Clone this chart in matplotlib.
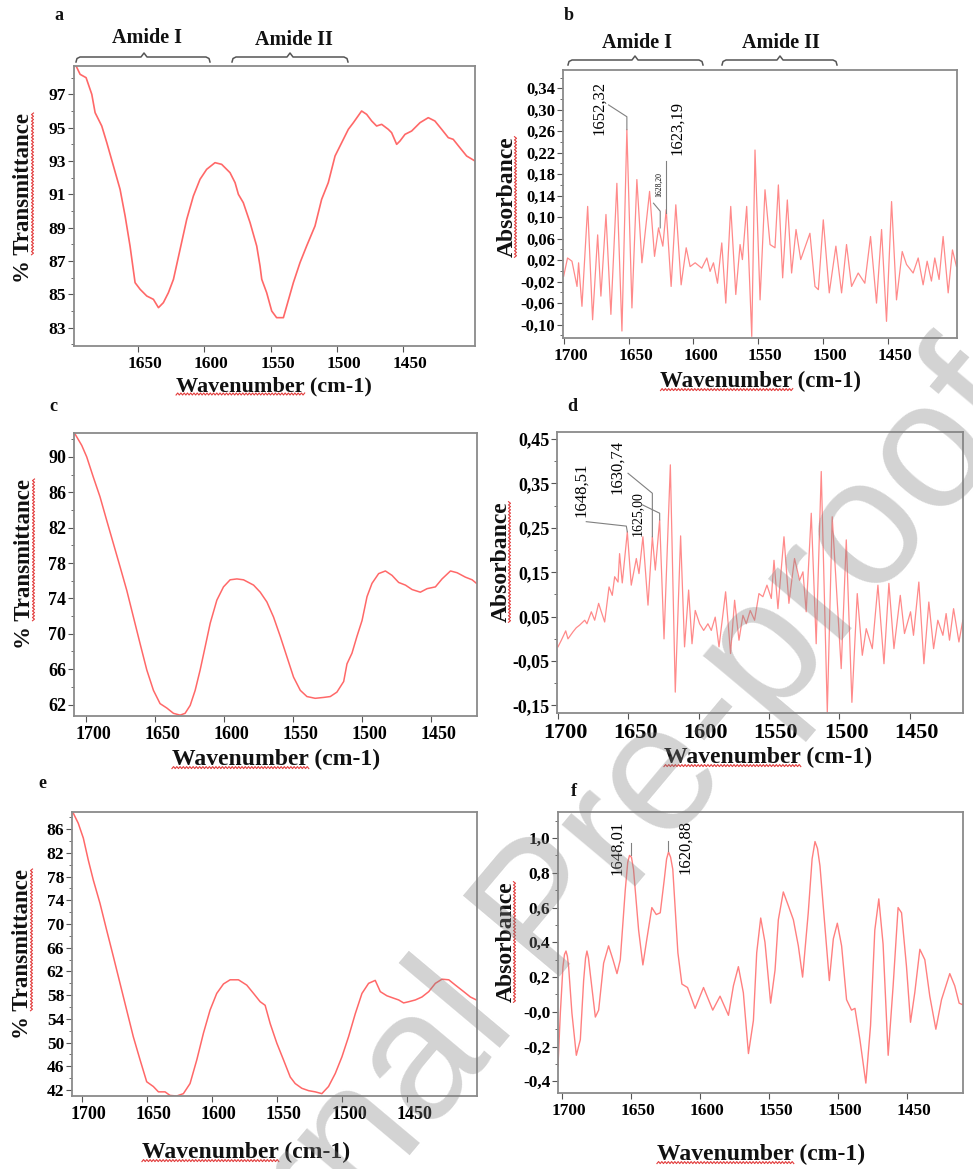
import numpy as np
import matplotlib
matplotlib.use("Agg")
import matplotlib.pyplot as plt
from matplotlib.lines import Line2D
from matplotlib.ticker import MultipleLocator
from matplotlib.transforms import ScaledTranslation

W, H = 973, 1169
SERIF = "Liberation Serif"
INK = "#111111"
LINE = "#ff6868"
FRAME = "#8a8a8a"
LEADER = "#808080"

# ---- panel a: transmittance ----
a_wn = [1697.8, 1696.4, 1693.4, 1688.9, 1684.6, 1682.1, 1677.1, 1673.3, 1668.3, 1663.3, 1659.5,
        1655.8, 1652.0, 1648.2, 1643.2, 1638.2, 1634.4, 1630.7, 1626.9, 1623.1, 1618.1, 1613.1,
        1608.1, 1603.1, 1598.1, 1591.8, 1586.8, 1580.5, 1576.7, 1574.2, 1570.5, 1565.4, 1560.4,
        1557.9, 1556.6, 1552.9, 1549.1, 1545.4, 1540.3, 1537.8, 1532.8, 1527.8, 1522.8, 1516.5,
        1511.5, 1506.5, 1501.4, 1496.4, 1491.4, 1487.6, 1481.4, 1477.6, 1473.8, 1470.1, 1466.3,
        1461.3, 1458.8, 1455.0, 1452.5, 1448.7, 1443.7, 1437.4, 1431.2, 1426.2, 1421.1, 1416.1,
        1412.4, 1407.4, 1402.3, 1396.0]
a_t = [98.8, 98.7, 98.2, 98.0, 97.0, 95.9, 95.1, 94.1, 92.7, 91.3, 89.7, 87.9, 85.7, 85.3, 84.9,
       84.7, 84.2, 84.5, 85.1, 85.9, 87.7, 89.5, 90.9, 91.9, 92.5, 92.9, 92.8, 92.3, 91.7, 91.0,
       90.5, 89.3, 87.9, 86.7, 85.9, 85.1, 84.0, 83.6, 83.6, 84.3, 85.7, 86.9, 87.9, 89.1, 90.7,
       91.7, 93.3, 94.1, 94.9, 95.3, 96.0, 95.8, 95.4, 95.1, 95.2, 94.9, 94.7, 94.0, 94.2, 94.6,
       94.8, 95.3, 95.6, 95.4, 94.9, 94.4, 94.3, 93.8, 93.3, 93.0]

# ---- panel b: absorbance ----
b_wn = [1700, 1697, 1693.6, 1689.7, 1688.5, 1685.9, 1681.5, 1677.7, 1673.8, 1671.3,
        1667.4, 1663.6, 1659.0, 1655.1, 1651.3, 1647.4, 1643.6, 1639.7, 1633.8, 1630.0,
        1626.9, 1623.6, 1621.0, 1617.2, 1613.6, 1609.5, 1605.6, 1602.6, 1598.7, 1593.6,
        1589.7, 1587.2, 1584.6, 1581.5, 1578.2, 1575.1, 1571.3, 1567.4, 1564.1, 1562.3,
        1559.0, 1555.1, 1552.6, 1548.7, 1544.9, 1541.0, 1537.2, 1534.6, 1531.3, 1527.7,
        1524.4, 1521.0, 1517.4, 1510.3, 1506.4, 1503.8, 1500.0, 1495.4, 1490.3, 1485.9,
        1482.1, 1478.2, 1473.1, 1468.0, 1463.6, 1459.0, 1455.1, 1451.3, 1447.4, 1443.6,
        1439.2, 1435.9, 1430.8, 1426.9, 1423.1, 1420.0, 1416.7, 1414.1, 1410.8, 1407.7,
        1403.8, 1400.5, 1397.4]
b_a = [-0.010, 0.024, 0.018, -0.029, 0.015, -0.066, 0.120, -0.091, 0.067, -0.047,
       0.105, -0.081, 0.163, -0.112, 0.263, -0.069, 0.170, 0.015, 0.148, 0.027,
       0.080, 0.046, 0.114, -0.029, 0.123, -0.026, 0.043, 0.008, 0.015, 0.005,
       0.024, -0.001, 0.015, -0.023, 0.052, -0.060, 0.120, -0.044, 0.049, 0.021,
       0.120, -0.122, 0.225, -0.054, 0.151, 0.049, 0.043, 0.160, -0.013, 0.132,
       -0.004, 0.077, 0.021, 0.070, -0.029, -0.035, 0.095, -0.041, 0.046, -0.041,
       0.049, -0.029, -0.004, -0.023, 0.064, -0.060, 0.077, -0.094, 0.129, -0.054,
       0.036, 0.012, -0.004, 0.024, -0.026, 0.018, -0.019, 0.024, -0.016, 0.064,
       -0.041, 0.039, 0.008]

# ---- panel c: transmittance ----
c_wn = [1708, 1703.1, 1699.5, 1694.7, 1689.9, 1685.0, 1680.2, 1675.4, 1670.5, 1665.7,
        1660.9, 1656.0, 1651.2, 1646.4, 1641.5, 1636.7, 1631.9, 1628.3, 1624.6, 1621.0,
        1617.4, 1613.8, 1610.1, 1605.3, 1600.5, 1595.7, 1590.8, 1586.0, 1578.7, 1573.9,
        1569.1, 1564.3, 1559.4, 1554.6, 1549.8, 1544.9, 1540.1, 1534.1, 1528.0, 1523.2,
        1518.4, 1513.5, 1511.1, 1507.5, 1503.9, 1500.2, 1496.6, 1493.0, 1488.2, 1483.3,
        1478.5, 1473.7, 1468.8, 1464.0, 1458.0, 1453.1, 1447.1, 1442.3, 1436.2, 1431.4,
        1425.4, 1420.5, 1417.4]
c_t = [92.6, 91.3, 90.0, 87.7, 85.5, 82.8, 80.2, 77.6, 74.9, 71.9,
       68.9, 65.9, 63.6, 62.1, 61.6, 61.0, 60.8, 61.0, 61.9, 63.6,
       65.9, 68.5, 71.2, 73.8, 75.3, 76.1, 76.2, 76.1, 75.5, 74.7,
       73.6, 71.9, 69.7, 67.4, 65.1, 63.6, 62.9, 62.7, 62.8, 62.9,
       63.4, 64.6, 66.6, 67.8, 69.7, 71.5, 74.2, 75.7, 76.8, 77.1,
       76.6, 75.8, 75.5, 75.0, 74.7, 75.1, 75.3, 76.2, 77.1, 76.9,
       76.4, 76.1, 75.7]

# ---- panel d: absorbance ----
d_wn = [1700.0, 1697.6, 1694.5, 1692.9, 1689.3, 1687.0, 1684.6, 1681.0, 1679.4, 1676.3,
        1673.9, 1671.1, 1669.2, 1666.8, 1663.7, 1661.4, 1659.7, 1657.3, 1656.2, 1654.3,
        1650.7, 1647.9, 1644.3, 1642.4, 1639.6, 1636.0, 1632.9, 1630.8, 1627.7, 1624.6,
        1620.1, 1616.6, 1612.8, 1610.0, 1607.1, 1604.7, 1602.4, 1599.3, 1596.4, 1593.4,
        1591.0, 1588.2, 1585.5, 1580.8, 1577.3, 1574.4, 1571.3, 1568.5, 1566.1, 1563.3,
        1560.2, 1557.1, 1554.3, 1551.4, 1548.3, 1546.4, 1543.6, 1539.3, 1535.8, 1531.8,
        1528.2, 1525.8, 1523.5, 1519.9, 1516.4, 1512.8, 1508.5, 1505.0, 1498.6, 1495.0,
        1491.0, 1487.2, 1483.6, 1480.8, 1476.5, 1472.5, 1468.2, 1464.7, 1461.1, 1456.6,
        1453.6, 1449.3, 1447.2, 1443.4, 1439.8, 1436.3, 1432.9, 1429.9, 1426.3, 1424.0,
        1421.6, 1418.7, 1414.9, 1412.1]
d_a = [-0.018, -0.003, 0.018, 0.000, 0.016, 0.025, 0.031, 0.042, 0.034, 0.061,
       0.042, 0.080, 0.061, 0.038, 0.117, 0.098, 0.140, 0.128, 0.192, 0.126,
       0.241, 0.121, 0.181, 0.147, 0.230, 0.076, 0.230, 0.155, 0.268, 0.000,
       0.392, -0.120, 0.232, -0.018, 0.110, -0.011, 0.064, 0.034, 0.019, 0.034,
       0.019, 0.049, -0.018, 0.106, -0.033, 0.087, -0.003, 0.053, 0.034, 0.064,
       0.042, 0.102, 0.095, 0.121, 0.091, 0.177, 0.068, 0.230, 0.080, 0.181,
       0.132, 0.151, 0.061, 0.283, -0.011, 0.377, -0.165, 0.275, -0.067, 0.223,
       -0.143, 0.102, -0.037, 0.023, -0.022, 0.121, -0.056, 0.125, -0.022, 0.098,
       0.012, 0.061, 0.008, 0.128, -0.056, 0.083, -0.022, 0.042, 0.008, 0.057,
       -0.003, 0.068, -0.007, 0.042]

# ---- panel e: transmittance ----
e_wn = [1706.4, 1702.6, 1698.7, 1694.9, 1691.0, 1685.9, 1680.8, 1675.6, 1670.5, 1665.4,
        1660.3, 1655.1, 1650.0, 1644.9, 1641.0, 1635.9, 1632.1, 1626.9, 1621.8, 1616.7,
        1611.5, 1606.4, 1601.3, 1596.2, 1591.0, 1585.9, 1579.5, 1573.1, 1567.9, 1562.8,
        1559.0, 1555.1, 1550.0, 1544.9, 1539.7, 1535.9, 1530.8, 1525.6, 1520.5, 1515.4,
        1510.3, 1505.1, 1500.0, 1494.9, 1489.7, 1484.6, 1479.5, 1474.4, 1470.5, 1465.4,
        1460.3, 1456.4, 1452.6, 1448.7, 1443.6, 1438.5, 1433.3, 1428.2, 1423.1, 1417.9,
        1412.8, 1406.4, 1401.3, 1396.7]
e_t = [88.7, 87.0, 84.5, 80.8, 77.4, 73.5, 69.0, 64.5, 60.0, 55.5,
       51.0, 47.1, 43.4, 42.6, 41.7, 41.7, 41.1, 41.0, 41.4, 43.1,
       47.1, 51.6, 55.5, 58.3, 59.9, 60.6, 60.6, 59.7, 58.3, 56.9,
       56.3, 53.2, 49.9, 47.1, 44.2, 43.1, 42.3, 41.9, 41.7, 41.4,
       42.6, 44.8, 47.6, 51.0, 54.9, 58.3, 60.0, 60.5, 58.6, 57.9,
       57.5, 57.2, 56.7, 56.9, 57.2, 57.7, 58.6, 60.0, 60.7, 60.6,
       59.7, 58.6, 57.7, 57.2]

# ---- panel f: absorbance ----
f_wn = [1702.9, 1701.2, 1699.3, 1698.2, 1697.1, 1696.1, 1695.2, 1692.8, 1689.6, 1686.7, 1684.3,
        1682.9, 1681.9, 1680.8, 1679.5, 1675.8, 1673.4, 1669.8, 1666.2, 1663.0, 1660.1, 1657.7,
        1654.1, 1652.3, 1651.0, 1649.6, 1648.1, 1644.4, 1641.3, 1638.4, 1634.8, 1631.6, 1628.7,
        1625.8, 1624.1, 1622.7, 1621.2, 1619.6, 1615.9, 1613.0, 1608.9, 1603.4, 1597.3, 1590.6,
        1585.3, 1579.2, 1575.6, 1572.0, 1568.4, 1564.7, 1561.1, 1558.7, 1555.8, 1552.7, 1548.6,
        1545.4, 1543.0, 1539.4, 1535.7, 1532.1, 1528.5, 1525.4, 1521.3, 1518.5, 1516.4, 1514.6,
        1512.8, 1509.2, 1506.0, 1503.1, 1500.2, 1497.1, 1493.5, 1489.9, 1487.4, 1483.8, 1479.5,
        1476.1, 1473.0, 1470.1, 1467.0, 1463.3, 1459.7, 1456.1, 1453.6, 1450.0, 1447.1, 1444.0,
        1440.3, 1436.7, 1433.1, 1428.7, 1424.6, 1418.6, 1415.0, 1411.8, 1409.0]
f_a = [-0.31, -0.007, 0.26, 0.33, 0.35, 0.32, 0.26, -0.007, -0.25, -0.16, 0.18,
       0.31, 0.35, 0.31, 0.22, -0.03, 0.01, 0.28, 0.38, 0.30, 0.22, 0.30,
       0.70, 0.86, 0.90, 0.89, 0.82, 0.47, 0.27, 0.42, 0.60, 0.56, 0.57,
       0.76, 0.88, 0.92, 0.89, 0.82, 0.34, 0.16, 0.14, 0.02, 0.14, 0.01,
       0.09, -0.02, 0.15, 0.26, 0.11, -0.24, -0.05, 0.34, 0.54, 0.40, 0.05,
       0.24, 0.53, 0.69, 0.61, 0.53, 0.38, 0.20, 0.57, 0.88, 0.98, 0.94,
       0.84, 0.49, 0.18, 0.42, 0.51, 0.38, 0.07, 0.01, 0.02, -0.16, -0.41,
       -0.08, 0.47, 0.65, 0.39, -0.25, 0.15, 0.60, 0.57, 0.26, -0.06, 0.11,
       0.36, 0.30, 0.09, -0.10, 0.07, 0.22, 0.15, 0.05, 0.04]

x_ticks = [1700, 1650, 1600, 1550, 1500, 1450]

fig = plt.figure(figsize=(W / 100, H / 100), dpi=100)


def fx(x):
    return x / W


def fy(y):
    return 1 - y / H


def panel(box, xlim, ylim, yticks, ylabels, yminor, xfs, yfs):
    l, t, r, b = box
    ax = fig.add_axes([l / W, 1 - b / H, (r - l) / W, (b - t) / H])
    ax.set_xlim(*xlim)
    ax.set_ylim(*ylim)
    xt = [v for v in x_ticks if min(xlim) <= v <= max(xlim)]
    ax.set_xticks(xt)
    ax.set_xticklabels([str(v) for v in xt])
    ax.set_yticks(yticks)
    ax.set_yticklabels(ylabels)
    ax.yaxis.set_minor_locator(MultipleLocator(yminor))
    ax.tick_params(which="both", direction="out", color="#555555")
    ax.tick_params(axis="x", length=4, pad=3)
    ax.tick_params(axis="y", which="major", length=4, pad=1.5)
    ax.tick_params(axis="y", which="minor", length=2.5)
    for s in ax.spines.values():
        s.set_color(FRAME)
        s.set_linewidth(1.3)
    for lab in ax.get_xticklabels():
        lab.set_fontfamily(SERIF)
        lab.set_fontweight("bold")
        lab.set_fontsize(xfs)
        lab.set_transform(lab.get_transform() + ScaledTranslation(0.07, 0, fig.dpi_scale_trans))
    for lab in ax.get_yticklabels():
        lab.set_fontfamily(SERIF)
        lab.set_fontweight("bold")
        lab.set_fontsize(yfs)
    return ax


def comma(vals, fmt):
    return [(fmt % v).replace(".", ",") for v in vals]


def squiggle_label(x, y, full, word, fs, rotation=0):
    t = fig.text(fx(x), fy(y), full, fontsize=fs, fontweight="bold", family=SERIF,
                 rotation=rotation, ha="center", va="center", color=INK)
    rnd = fig.canvas.get_renderer()
    bb = t.get_window_extent(rnd)
    tmp = fig.text(0, 0, word, fontsize=fs, fontweight="bold", family=SERIF)
    wl = tmp.get_window_extent(rnd).width
    tmp.remove()
    tmp = fig.text(0, 0, full, fontsize=fs, fontweight="bold", family=SERIF)
    fl = tmp.get_window_extent(rnd).width
    tmp.remove()
    start = fl - wl if full.endswith(word) else 0
    n = int(wl / 1.6)
    zig = np.where(np.arange(n) % 2 == 0, -1.0, 1.0)
    if rotation == 0:
        xs = bb.x0 + start + np.linspace(0, wl, n)
        ys = bb.y0 + 2 + zig
    else:
        ys = bb.y0 + start + np.linspace(0, wl, n)
        xs = bb.x1 - 2 + zig
    fig.add_artist(Line2D(xs / W, ys / H, color="#e23b3b", lw=0.8))


def bracket(x0, x1, xc, y):
    xs = [x0, x0 + 1, x0 + 4, xc - 3, xc, xc + 3, x1 - 4, x1 - 1, x1]
    ys = [y + 5, y + 1.5, y, y, y - 4, y, y, y + 1.5, y + 5]
    fig.add_artist(Line2D([fx(v) for v in xs], [fy(v) for v in ys], color="#555555", lw=1.1))


def plain(x, y, s, fs, **kw):
    fig.text(fx(x), fy(y), s, fontsize=fs, family=SERIF, color=INK, **kw)


# ---------------- a ----------------
ax = panel((74, 66, 475, 346), (1698, 1396), (81.9, 98.7), list(range(83, 98, 2)),
           [str(v) for v in range(83, 98, 2)], 1, 12.5, 12.5)
ax.plot(a_wn, a_t, color=LINE, lw=1.2)

# ---------------- b ----------------
b_ticks = [round(-0.10 + 0.04 * i, 2) for i in range(12)]
ax = panel((563, 70, 957, 338), (1700.5, 1397), (-0.125, 0.374), b_ticks,
           comma(b_ticks, "%.2f"), 0.02, 12.5, 12)
ax.plot(b_wn, b_a, color="#ff8a8a", lw=0.9)
ax.text(1673, 0.303, "1652,32", rotation=90, ha="center", va="center", fontsize=12, family=SERIF)
ax.plot([1665.4, 1651.3, 1651.3], [0.309, 0.287, 0.263], color=LEADER, lw=0.8)
ax.text(1626.4, 0.160, "1628,20", rotation=90, ha="center", va="center", fontsize=5.5, family=SERIF)
ax.plot([1630.8, 1625.6, 1625.6], [0.126, 0.111, 0.080], color=LEADER, lw=0.8)
ax.text(1612.3, 0.266, "1623,19", rotation=90, ha="center", va="center", fontsize=12, family=SERIF)
ax.plot([1621.3, 1621.3], [0.204, 0.108], color=LEADER, lw=0.8)

# ---------------- c ----------------
ax = panel((74, 433, 477, 716), (1708.7, 1417), (60.7, 92.7), list(range(62, 91, 4)),
           [str(v) for v in range(62, 91, 4)], 2, 13, 13)
ax.plot(c_wn, c_t, color=LINE, lw=1.1)

# ---------------- d ----------------
d_ticks = [round(-0.15 + 0.10 * i, 2) for i in range(7)]
ax = panel((557, 432, 963, 713), (1700.7, 1412), (-0.167, 0.466), d_ticks,
           comma(d_ticks, "%.2f"), 0.05, 16, 13)
ax.plot(d_wn, d_a, color="#ff8a8a", lw=0.9)
ax.text(1683.4, 0.336, "1648,51", rotation=90, ha="center", va="center", fontsize=12, family=SERIF)
ax.plot([1679.9, 1651.4, 1650.7], [0.264, 0.254, 0.241], color=LEADER, lw=0.8)
ax.text(1657.8, 0.388, "1630,74", rotation=90, ha="center", va="center", fontsize=12, family=SERIF)
ax.plot([1650.2, 1632.9, 1632.9], [0.373, 0.328, 0.230], color=LEADER, lw=0.8)
ax.text(1643.6, 0.283, "1625,00", rotation=90, ha="center", va="center", fontsize=10, family=SERIF)
ax.plot([1640.0, 1627.7, 1627.7], [0.302, 0.283, 0.268], color=LEADER, lw=0.8)

# ---------------- e ----------------
ax = panel((72, 812, 477, 1096), (1707.4, 1396.2), (41.0, 88.9), list(range(42, 87, 4)),
           [str(v) for v in range(42, 87, 4)], 2, 13, 12.5)
ax.plot(e_wn, e_t, color=LINE, lw=1.1)

# ---------------- f ----------------
f_ticks = [-0.4, -0.2, 0.0, 0.2, 0.4, 0.6, 0.8, 1.0]
f_labels = ["-0,4", "-0,2", "-0,0", "0,2", "0,4", "0,6", "0,8", "1,0"]
ax = panel((558, 812, 963, 1093), (1702.9, 1409), (-0.467, 1.15), f_ticks, f_labels,
           0.1, 12.5, 12.5)
ax.plot(f_wn, f_a, color="#ff8080", lw=1.0)
ax.text(1660.1, 0.946, "1648,01", rotation=90, ha="center", va="center", fontsize=12, family=SERIF)
ax.plot([1650.0, 1650.0], [0.971, 0.904], color=LEADER, lw=0.8)
ax.text(1610.6, 0.95, "1620,88", rotation=90, ha="center", va="center", fontsize=12, family=SERIF)
ax.plot([1623.4, 1623.4], [0.985, 0.923], color=LEADER, lw=0.8)

# ---------------- labels ----------------
for x, y, s in [(59, 16, "a"), (569, 16, "b"), (53, 406, "c"), (572, 406, "d"),
                (42, 784, "e"), (574, 791, "f")]:
    plain(x, y, s, 13, fontweight="bold", ha="center", va="center")

plain(147, 38, "Amide I", 14.5, fontweight="bold", ha="center", va="center")
plain(294, 40, "Amide II", 14.5, fontweight="bold", ha="center", va="center")
bracket(76, 210, 144, 57)
bracket(232, 348, 290, 57)
plain(637, 43, "Amide I", 14.5, fontweight="bold", ha="center", va="center")
plain(781, 43, "Amide II", 14.5, fontweight="bold", ha="center", va="center")
bracket(568, 703, 635, 60)
bracket(722, 837, 780, 60)

squiggle_label(24, 198, "% Transmittance", "Transmittance", 16.5, rotation=90)
squiggle_label(274, 386, "Wavenumber (cm-1)", "Wavenumber", 16)
squiggle_label(507, 197, "Absorbance", "Absorbance", 17, rotation=90)
squiggle_label(761, 381, "Wavenumber (cm-1)", "Wavenumber", 16.5)
squiggle_label(25, 564, "% Transmittance", "Transmittance", 16.5, rotation=90)
squiggle_label(276, 759, "Wavenumber (cm-1)", "Wavenumber", 17)
squiggle_label(501, 562, "Absorbance", "Absorbance", 17, rotation=90)
squiggle_label(768, 757, "Wavenumber (cm-1)", "Wavenumber", 17)
squiggle_label(23, 954, "% Transmittance", "Transmittance", 16.5, rotation=90)
squiggle_label(246, 1152, "Wavenumber (cm-1)", "Wavenumber", 17)
squiggle_label(506, 942, "Absorbance", "Absorbance", 17, rotation=90)
squiggle_label(761, 1154, "Wavenumber (cm-1)", "Wavenumber", 17)

# watermark
fig.text(fx(550), fy(915), "Journal Pre-proof", fontsize=130, family="Liberation Sans",
         rotation=50, rotation_mode="anchor", ha="center", va="center",
         color="0.5", alpha=0.35, zorder=10)

fig.savefig("out.png", dpi=100)
